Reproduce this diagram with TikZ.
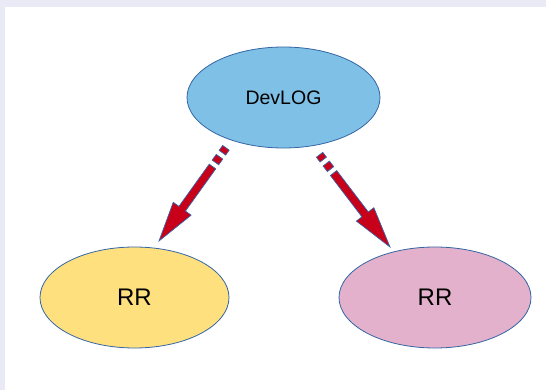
\documentclass[tikz,border=0pt]{standalone}
\usepackage{fontspec}
\setmainfont{Liberation Sans}
\usetikzlibrary{shapes.geometric,calc}
\definecolor{bgl}{HTML}{EAEAF6}
\definecolor{edge}{HTML}{3465A4}
\definecolor{cblue}{HTML}{7FC0E6}
\definecolor{cyel}{HTML}{FFE07F}
\definecolor{cpink}{HTML}{E3B1CB}
\definecolor{cred}{HTML}{C9001A}
\tikzset{
  oval/.style={ellipse, draw=edge, line width=0.8pt, inner sep=0pt},
  arrowstyle/.style={fill=cred, draw=edge, line width=0.7pt, line join=miter},
}
\newcommand\seg[4]{% start, end, from, to (pt), half width 4pt
  ($(#1)!#3pt!(#2)!4pt!90:(#2)$) -- ($(#1)!#4pt!(#2)!4pt!90:(#2)$) --
  ($(#1)!#4pt!(#2)!4pt!-90:(#2)$) -- ($(#1)!#3pt!(#2)!4pt!-90:(#2)$) -- cycle}
\newcommand\blockarrow[2]{%
  \filldraw[arrowstyle] \seg{#1}{#2}{1}{7};
  \filldraw[arrowstyle] \seg{#1}{#2}{12}{19};
  \filldraw[arrowstyle]
    ($(#1)!24pt!(#2)!4pt!90:(#2)$) -- ($(#1)!76pt!(#2)!4pt!90:(#2)$) --
    ($(#1)!76pt!(#2)!11pt!90:(#2)$) -- (#2) --
    ($(#1)!76pt!(#2)!11pt!-90:(#2)$) -- ($(#1)!76pt!(#2)!4pt!-90:(#2)$) --
    ($(#1)!24pt!(#2)!4pt!-90:(#2)$) -- cycle;
}
\begin{document}
\begin{tikzpicture}[x=1pt,y=-1pt]
\useasboundingbox (0,0) rectangle (546,390);
\fill[bgl] (0,0) rectangle (546,390);
\fill[white] (5,7) rectangle (546,390);
\node[oval, fill=cblue, minimum width=193pt, minimum height=101pt, font=\fontsize{19.5}{22}\selectfont] (dev) at (283.5,97.5) {DevLOG};
\node[oval, fill=cyel, minimum width=189pt, minimum height=101pt, font=\fontsize{24}{28}\selectfont] (rrl) at (134.5,297.5) {RR};
\node[oval, fill=cpink, minimum width=192pt, minimum height=101pt, font=\fontsize{24}{28}\selectfont] (rrr) at (435,297.5) {RR};
\coordinate (ls) at (226.5,147);
\coordinate (le) at (159,241);
\coordinate (rs) at (319,154);
\coordinate (re) at (390,247);
\blockarrow{ls}{le}
\blockarrow{rs}{re}
\end{tikzpicture}
\end{document}
